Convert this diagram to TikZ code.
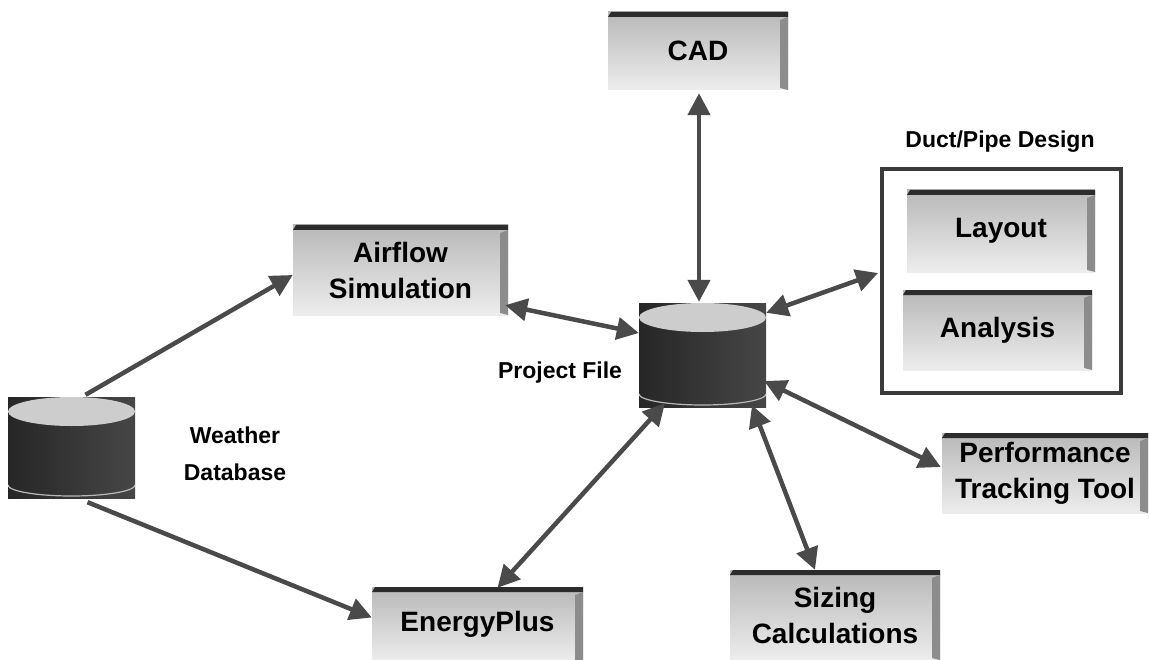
\documentclass[tikz,border=0pt]{standalone}
\usepackage{fontspec}
\setmainfont{Liberation Sans}
\usetikzlibrary{arrows.meta,calc}
\definecolor{linkgray}{HTML}{4A4A4A}
\definecolor{slabtop}{HTML}{B8B8B8}
\definecolor{slabbot}{HTML}{EDEDED}
\definecolor{bevel}{HTML}{2C2C2C}
\definecolor{sidegray}{HTML}{8C8C8C}
\definecolor{drumdark}{HTML}{262626}
\definecolor{drummid}{HTML}{9A9A9A}
\definecolor{drumtop}{HTML}{CDCDCD}
\definecolor{framegray}{HTML}{3A3A3A}
\tikzset{
  slab/.style={rectangle, inner sep=0pt, align=center,
    font=\bfseries\fontsize{28}{36}\selectfont,
    top color=slabtop, bottom color=slabbot,
    path picture={
      \fill[bevel] ([xshift=3pt]path picture bounding box.north west) --
        ([yshift=-5pt]path picture bounding box.north west) --
        ([yshift=-5pt]path picture bounding box.north east) --
        (path picture bounding box.north east) -- cycle;
      \fill[sidegray] ([yshift=-5pt]path picture bounding box.north east) --
        ([xshift=-8pt,yshift=-8pt]path picture bounding box.north east) --
        ([xshift=-8pt,yshift=2pt]path picture bounding box.south east) --
        (path picture bounding box.south east) -- cycle;
    }},
  drum/.style={rectangle, inner sep=0pt, minimum width=127pt, minimum height=104pt,
    left color=drumdark, middle color=drummid, right color=drumdark!85!white,
    path picture={
      \fill[drumtop] ([yshift=-14.5pt]path picture bounding box.north)
        ellipse [x radius=63.5pt, y radius=14.5pt];
      \draw[gray!55, line width=1.2pt] ([yshift=13pt]path picture bounding box.south west)
        arc [start angle=180, end angle=360, x radius=63.5pt, y radius=11pt];
    }},
  caption/.style={font=\bfseries\fontsize{23}{37}\selectfont, align=center},
  link/.style={draw=linkgray, line width=4.5pt,
    -{Triangle[length=22pt,width=22pt]}},
  twoway/.style={link, {Triangle[length=22pt,width=22pt]}-{Triangle[length=22pt,width=22pt]}}
}
\begin{document}
\begin{tikzpicture}[x=1pt, y=-1pt]
\useasboundingbox (0,0) rectangle (1150,660);

% storage drums
\node[drum] (pf) at (702.5,355) {};
\node[drum, minimum height=101pt] (wx) at (71.5,447.5) {};
\node[caption] (pflabel) at (560,373) {Project File};
\node[caption] (wxlabel) at (235,454) {Weather\\Database};

% tool boxes
\node[slab, minimum width=180pt, minimum height=78pt] (cad) at (698,51) {CAD};
\node[slab, minimum width=215pt, minimum height=90pt] (air) at (400.5,270) {Airflow\\Simulation};
\node[slab, minimum width=211pt, minimum height=75pt] (energy) at (477.5,624.5) {EnergyPlus};
\node[slab, minimum width=210pt, minimum height=90pt] (sizing) at (835,615) {Sizing\\Calculations};
\node[slab, minimum width=206pt, minimum height=80pt] (perf) at (1045,473) {Performance\\Tracking Tool};

% duct / pipe design group
\node[draw=framegray, line width=4pt, minimum width=239pt, minimum height=224pt] (duct) at (1001.5,281) {};
\node[caption] (ductlabel) at (1000,142) {Duct/Pipe Design};
\node[slab, minimum width=188pt, minimum height=82pt] (lay) at (1001,231) {Layout};
\node[slab, minimum width=189pt, minimum height=80pt] (ana) at (997.5,330) {Analysis};

% data flows
\draw[link] ($(wx.north)+(14,-2)$) -- ($(air.west)+(0,5)$);
\draw[link] ($(wx.south)+(16,4)$) -- ($(energy.west)+(0,-7)$);
\draw[twoway] ($(air.south east)+(-3,-10)$) -- ($(pf.west)+(0,-22)$);
\draw[twoway] ($(cad.south)+(1,3)$) -- ($(pf.north)+(-3.5,-1)$);
\draw[twoway] ($(pf.north east)+(0,10)$) -- ($(duct.west)+(-2,-8)$);
\draw[twoway] ($(pf.east)+(-2,26)$) -- ($(perf.west)+(-1,-6)$);
\draw[twoway] ($(pf.south)+(49.5,-2)$) -- ($(sizing.north)+(-20,0)$);
\draw[twoway] ($(pf.south)+(-37.5,-4)$) -- ($(energy.north)+(20,1)$);
\end{tikzpicture}
\end{document}
